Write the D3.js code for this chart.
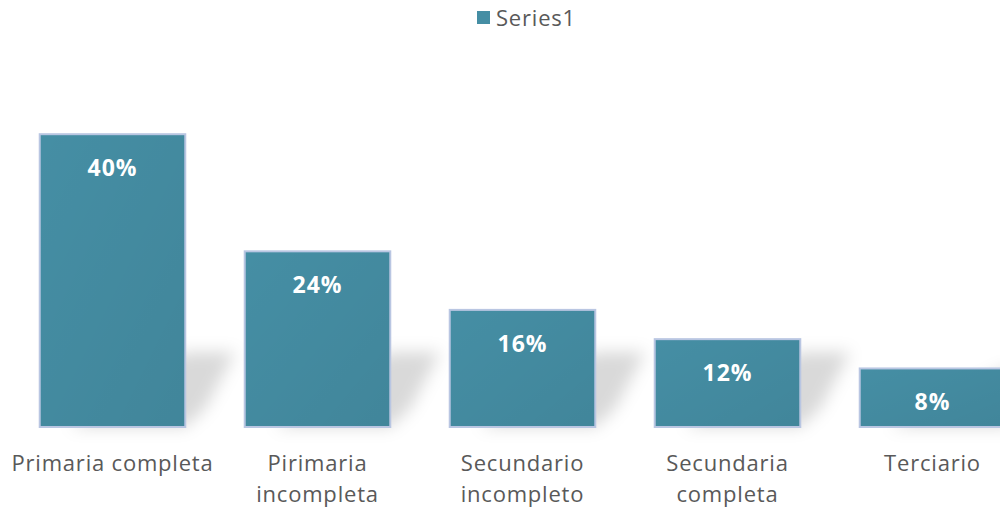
<!DOCTYPE html>
<html>
<head>
<meta charset="utf-8">
<script src="https://cdn.jsdelivr.net/npm/d3@7"></script>
<style>
  body { margin: 0; background: #fff; }
  svg { display: block; }
</style>
</head>
<body>
<div id="chart"></div>
<script>
///// DATA /////
const categories = [
    ["Primaria completa"],
    ["Pirimaria", "incompleta"],
    ["Secundario", "incompleto"],
    ["Secundaria", "completa"],
    ["Terciario"]
];
const values = [40, 24, 16, 12, 8];
const seriesName = "Series1";

///// CHART /////
const width = 1000;
const height = 509;
const barColor = "#458ea4";
const edgeColor = "#b9c6e2";
const textColor = "#595959";
const font = "'Open Sans', 'DejaVu Sans', sans-serif";

const svg = d3.select("#chart").append("svg")
    .attr("width", width)
    .attr("height", height);

const defs = svg.append("defs");
defs.append("filter")
    .attr("id", "blur")
    .attr("x", "-50%").attr("y", "-50%")
    .attr("width", "200%").attr("height", "200%")
    .append("feGaussianBlur")
    .attr("stdDeviation", 8);

const shade = defs.append("linearGradient")
    .attr("id", "shade")
    .attr("x1", 0).attr("y1", 0).attr("x2", 1).attr("y2", 1);
shade.append("stop").attr("offset", "0%").attr("stop-color", "#000").attr("stop-opacity", 0);
shade.append("stop").attr("offset", "100%").attr("stop-color", "#000").attr("stop-opacity", 0.06);

// band scale runs past the right edge, like the cropped original
const x = d3.scaleBand()
    .domain(d3.range(values.length))
    .range([10, 10 + 205 * values.length])
    .paddingInner(0.29)
    .paddingOuter(0.145);

const y = d3.scaleLinear()
    .domain([0, 50])
    .range([427, 61]);

// perspective shadows
svg.append("g")
    .selectAll("path")
    .data(values)
    .join("path")
    .attr("d", (d, i) => {
        const x0 = x(i), x1 = x(i) + x.bandwidth();
        const h = Math.min(y(0) - y(d), 75);
        const b = y(0);
        return `M${x0 + 30},${b} L${x1},${b - h} L${x1 + 50},${b - h} L${x1 + 20},${b - h * 0.25} L${x1},${b} Z`;
    })
    .attr("fill", "#000")
    .attr("fill-opacity", 0.15)
    .attr("filter", "url(#blur)");

// bars
const bars = svg.append("g")
    .selectAll("g")
    .data(values)
    .join("g");

bars.append("rect")
    .attr("x", (d, i) => x(i))
    .attr("y", d => y(d))
    .attr("width", x.bandwidth())
    .attr("height", d => y(0) - y(d))
    .attr("fill", barColor)
    .attr("stroke", edgeColor)
    .attr("stroke-width", 2);

bars.append("rect")
    .attr("x", (d, i) => x(i) + 1)
    .attr("y", d => y(d) + 1)
    .attr("width", x.bandwidth() - 2)
    .attr("height", d => y(0) - y(d) - 2)
    .attr("fill", "url(#shade)");

// value labels
bars.append("text")
    .attr("x", (d, i) => x(i) + x.bandwidth() / 2)
    .attr("y", d => y(d) + 42)
    .attr("text-anchor", "middle")
    .attr("fill", "#fff")
    .attr("letter-spacing", 1)
    .style("font", `bold 23px ${font}`)
    .text(d => d + "%");

// category labels
svg.append("g")
    .selectAll("text")
    .data(categories)
    .join("text")
    .attr("x", (d, i) => x(i) + x.bandwidth() / 2)
    .attr("y", 471)
    .attr("text-anchor", "middle")
    .attr("fill", textColor)
    .attr("letter-spacing", 0.8)
    .style("font", `22px ${font}`)
    .selectAll("tspan")
    .data(d => d)
    .join("tspan")
    .attr("x", function () { return this.parentNode.getAttribute("x"); })
    .attr("dy", (d, j) => j === 0 ? 0 : 31)
    .text(d => d);

// legend
const legend = svg.append("g");
legend.append("rect")
    .attr("x", 477).attr("y", 11)
    .attr("width", 13).attr("height", 13)
    .attr("fill", barColor);
legend.append("text")
    .attr("x", 496).attr("y", 26)
    .attr("fill", textColor)
    .attr("letter-spacing", 0.8)
    .style("font", `22px ${font}`)
    .text(seriesName);
</script>
</body>
</html>
